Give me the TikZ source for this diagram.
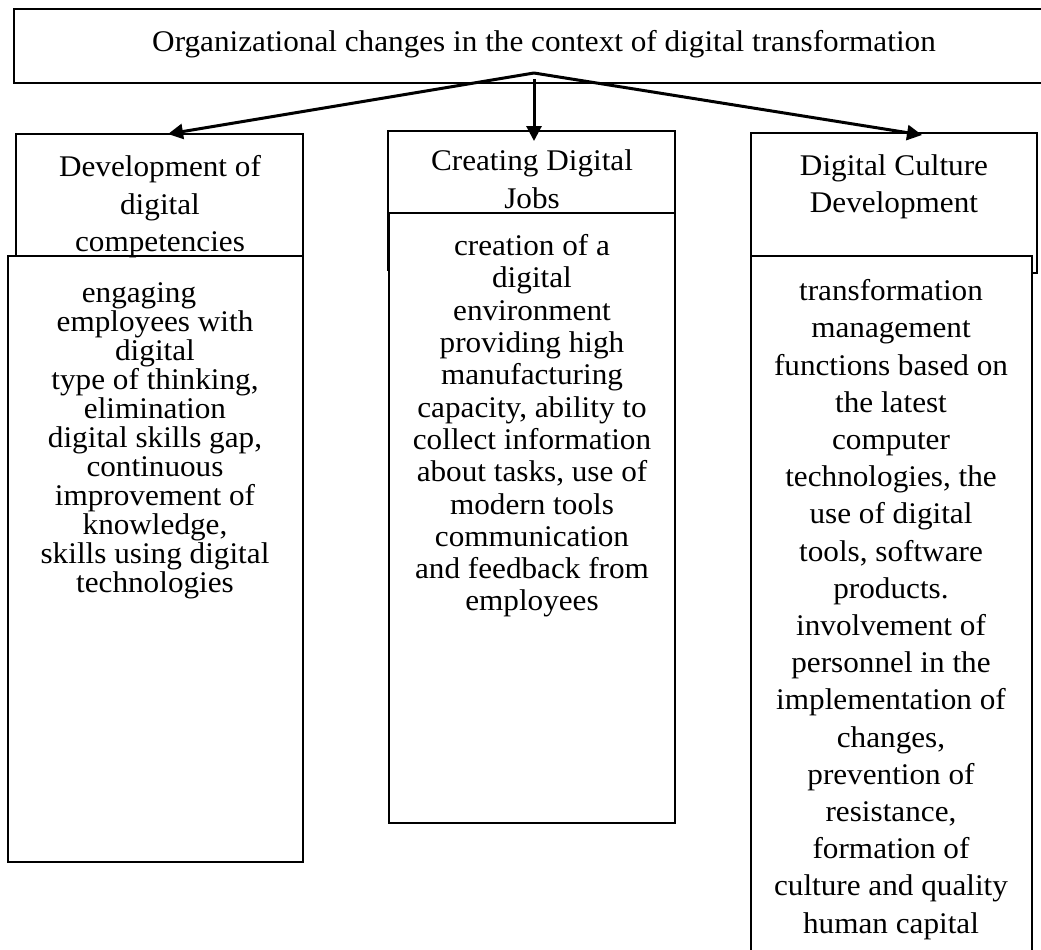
\documentclass[tikz,border=0pt]{standalone}
\usepackage{fontspec}
\setmainfont{Liberation Serif}[FakeStretch=1.04]
\usetikzlibrary{arrows.meta}

\begin{document}
\lineskiplimit=-50pt\relax
\begin{tikzpicture}[x=1pt,y=-1pt,
  box/.style={draw,line width=1.1pt,fill=white,inner sep=0pt,outer sep=0pt,anchor=north west},
  txt/.style={align=center,inner sep=0pt,anchor=north,
    font={\fontsize{30}{#1}\selectfont}},
  link/.style={line width=3pt,-{Triangle[length=15pt,width=15pt]}}]
\useasboundingbox (0,0) rectangle (1041,950);

% title box, runs off the right edge
\node[box,minimum width=1032,minimum height=74] (org) at (14,9) {};
\node[anchor=base,inner sep=0pt,font={\fontsize{30}{36}\selectfont}] (orgtxt) at (544,52)
  {Organizational changes in the context of digital transformation};
\coordinate (apex) at (534,73);
\coordinate (stem) at (534,79);

% headers first, the content boxes lie over their lower edges
\node[box,minimum width=287,minimum height=140] (hdA) at (16,134) {};
\node[box,minimum width=287,minimum height=139] (hdB) at (388,131) {};
\node[box,minimum width=286,minimum height=140] (hdC) at (751,133) {};

\node[box,minimum width=295,minimum height=606] (bdA) at (8,256) {};
\node[box,minimum width=286,minimum height=610] (bdB) at (389,213) {};
\node[box,minimum width=281,minimum height=704] (bdC) at (751,256) {};

\node[txt=37.5] (hdAtxt) at (160,155.3) {Development of\\digital\\competencies};
\node[txt=38] (hdBtxt) at (532,149.3) {Creating Digital\\Jobs};
\node[txt=37] (hdCtxt) at (894,154.3) {Digital Culture\\Development};

\node[txt=29] (bdAtxt) at (155,282.3) {engaging\hspace*{32pt}\\employees with\hspace*{32pt}\\digital\hspace*{32pt}\\type of thinking,\hspace*{28pt}\\elimination\hspace*{32pt}\\digital skills gap,\\continuous\\improvement of\\knowledge,\\skills using digital\\technologies};
\node[txt=32.3] (bdBtxt) at (532,234.3) {creation of a\\digital\\environment\\providing high\\manufacturing\\capacity, ability to\\collect information\\about tasks, use of\\modern tools\\communication\\and feedback from\\employees};
\node[txt=37.2] (bdCtxt) at (891,279.3) {transformation\\management\\functions based on\\the latest\\computer\\technologies, the\\use of digital\\tools, software\\products.\\involvement of\\personnel in the\\implementation of\\changes,\\prevention of\\resistance,\\formation of\\culture and quality\\human capital};

\draw[link] (apex) -- ([xshift=8.5pt]hdA.north);
\draw[link] (stem) -- ([xshift=2.5pt,yshift=-10pt]hdB.north);
\draw[link] (apex) -- ([xshift=28pt,yshift=-2pt]hdC.north);
\end{tikzpicture}
\end{document}
